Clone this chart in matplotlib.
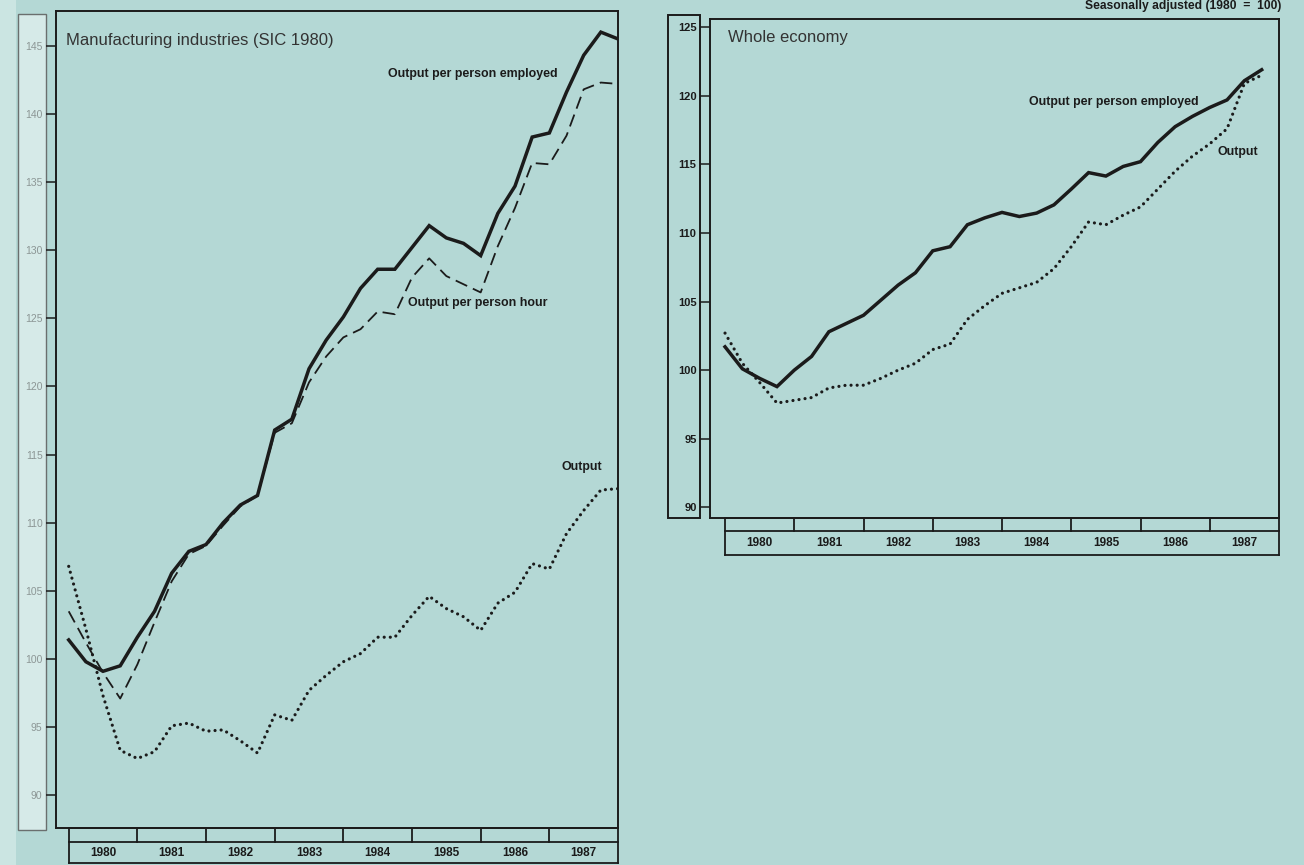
import numpy as np
import matplotlib.pyplot as plt
from matplotlib.patches import Rectangle

# ---- data (quarterly, 1980 = 100) ----
years = [1980, 1981, 1982, 1983, 1984, 1985, 1986, 1987]
start_year = 1980

mfg_per_person = [101.4, 99.8, 99.1, 99.5, 101.6, 103.5, 106.3, 107.9, 108.4, 110.0,
                  111.3, 112.0, 116.8, 117.6, 121.3, 123.4, 125.1, 127.2, 128.6, 128.6,
                  130.2, 131.8, 130.9, 130.5, 129.6, 132.7, 134.7, 138.3, 138.6, 141.6,
                  144.3, 146.0, 145.5]
mfg_per_hour = [103.5, 101.2, 99.0, 97.1, 99.6, 102.7, 105.7, 107.7, 108.3, 109.8,
                111.2, 112.0, 116.6, 117.3, 120.3, 122.2, 123.6, 124.2, 125.5, 125.3,
                128.0, 129.4, 128.1, 127.5, 126.9, 130.3, 133.1, 136.4, 136.3, 138.4,
                141.8, 142.3, 142.2]
mfg_output = [106.8, 102.2, 97.3, 93.3, 92.7, 93.2, 95.1, 95.3, 94.7, 94.8,
              94.0, 93.1, 95.9, 95.5, 97.7, 98.8, 99.8, 100.4, 101.6, 101.6,
              103.2, 104.6, 103.7, 103.1, 102.1, 104.1, 104.9, 107.0, 106.6, 109.2,
              110.9, 112.4, 112.5]

eco_per_person = [101.7, 100.1, 99.4, 98.8, 100.0, 101.0, 102.8, 103.4, 104.0, 105.1,
                  106.2, 107.1, 108.7, 109.0, 110.6, 111.1, 111.5, 111.2, 111.45, 112.05,
                  113.2, 114.4, 114.15, 114.85, 115.2, 116.6, 117.75, 118.5, 119.15, 119.7,
                  121.1, 121.9]
eco_output = [102.7, 100.5, 99.1, 97.6, 97.8, 98.0, 98.7, 98.9, 98.9, 99.4,
              100.0, 100.5, 101.5, 101.9, 103.7, 104.7, 105.6, 106.0, 106.4, 107.4,
              109.0, 110.8, 110.6, 111.3, 111.9, 113.2, 114.5, 115.6, 116.5, 117.6,
              120.9, 121.5]

mfg_ticks = [90, 95, 100, 105, 110, 115, 120, 125, 130, 135, 140, 145]
eco_ticks = [90, 95, 100, 105, 110, 115, 120, 125]

BG = '#b4d8d5'
INK = '#1b1b1b'
W, H = 1304, 865
LABEL_FS = 8.9


def quarters(vals):
    return start_year + np.arange(len(vals)) / 4


def fig_rect(x0, y0, x1, y1):
    # pixel box (top-left origin) -> figure fraction rect
    return [x0 / W, 1 - y1 / H, (x1 - x0) / W, (y1 - y0) / H]


def draw_lines(ax, x, solid=None, dashed=None, dotted=None):
    if solid is not None:
        ax.plot(x(solid), solid, color=INK, lw=2.5, solid_joinstyle='miter')
    if dashed is not None:
        ax.plot(x(dashed), dashed, color=INK, lw=1.3, dashes=(7, 3.5))
    if dotted is not None:
        ax.plot(x(dotted), dotted, color=INK, lw=2.3, linestyle=(0, (0.01, 1.9)),
                dash_capstyle='round')


def year_boxes(fig, rect, ax, row1, row2, fs):
    ay = fig.add_axes(rect, sharex=ax)
    ay.set_ylim(0, row1 + row2)
    ay.axis('off')
    top, mid = row1 + row2, row2
    x0, x1 = years[0], years[-1] + 1
    kw = dict(color=INK, lw=1.3, clip_on=False)
    for yy in (top, mid, 0):
        ay.plot([x0, x1], [yy, yy], **kw)
    ay.plot([x0, x0], [0, top], **kw)
    ay.plot([x1, x1], [0, top], **kw)
    for yr in years[1:]:
        ay.plot([yr, yr], [mid, top], **kw)
    for yr in years:
        ay.text(yr + 0.5, mid / 2, str(yr), ha='center', va='center',
                fontsize=fs, fontweight='bold', color=INK)
    return ay


plt.rcParams['font.family'] = ['Liberation Sans', 'DejaVu Sans']
fig = plt.figure(figsize=(W / 100, H / 100), dpi=100, facecolor=BG)

# pale page edge on the far left
fig.patches.append(Rectangle((0, 0), 16 / W, 1, transform=fig.transFigure,
                             facecolor='#cbe5e2', edgecolor='none', zorder=-2))

# ---------------- left panel: manufacturing ----------------
fig.patches.append(Rectangle((18 / W, 1 - 830 / H), 28 / W, 816 / H,
                             transform=fig.transFigure, facecolor='#d6eae8',
                             edgecolor='#6a6f6e', lw=1.0, zorder=-1))
ax1 = fig.add_axes(fig_rect(56, 11, 618, 828))
ax1.set_facecolor(BG)
draw_lines(ax1, quarters, mfg_per_person, mfg_per_hour, mfg_output)
ax1.set_xlim(1979.815, 1988.0)
ax1.set_ylim(87.6, 147.55)
ax1.set_yticks(mfg_ticks)
ax1.set_xticks([])
ax1.tick_params(axis='y', direction='out', length=7.2, width=1.1, pad=2.5,
                labelsize=7.5, labelcolor='#8c9695', color=INK)
for s in ax1.spines.values():
    s.set_linewidth(1.4)
    s.set_color(INK)
ax1.text(0.018, 0.9645, 'Manufacturing industries (SIC 1980)', transform=ax1.transAxes,
         ha='left', va='center', fontsize=12, color='#333333')
ax1.text(1985.88, 142.9, 'Output per person employed', ha='center', va='center',
         fontsize=LABEL_FS, fontweight='bold', color=INK)
ax1.text(1985.96, 126.15, 'Output per person hour', ha='center', va='center',
         fontsize=LABEL_FS, fontweight='bold', color=INK)
ax1.text(1987.47, 114.1, 'Output', ha='center', va='center',
         fontsize=LABEL_FS, fontweight='bold', color=INK)
year_boxes(fig, fig_rect(56, 828, 618, 863), ax1, 14, 20, 8.5)

# ---------------- right panel: whole economy ----------------
fig.patches.append(Rectangle((668 / W, 1 - 518 / H), 32 / W, 503 / H,
                             transform=fig.transFigure, facecolor=BG,
                             edgecolor=INK, lw=1.4, zorder=-1))
ax2 = fig.add_axes(fig_rect(710, 19, 1279, 518))
ax2.set_facecolor(BG)
draw_lines(ax2, quarters, eco_per_person, None, eco_output)
ax2.set_xlim(1979.783, 1988.0)
ax2.set_ylim(89.22, 125.6)
ax2.set_yticks(eco_ticks)
ax2.set_xticks([])
ax2.tick_params(axis='y', direction='out', length=7.2, width=1.1, pad=2.5,
                labelsize=8, labelcolor=INK, color=INK)
for lbl in ax2.get_yticklabels():
    lbl.set_fontweight('bold')
for s in ax2.spines.values():
    s.set_linewidth(1.4)
    s.set_color(INK)
ax2.text(0.0316, 0.962, 'Whole economy', transform=ax2.transAxes,
         ha='left', va='center', fontsize=12, color='#333333')
ax2.text(1985.62, 119.56, 'Output per person employed', ha='center', va='center',
         fontsize=LABEL_FS, fontweight='bold', color=INK)
ax2.text(1987.40, 115.9, 'Output', ha='center', va='center',
         fontsize=LABEL_FS, fontweight='bold', color=INK)
year_boxes(fig, fig_rect(710, 518, 1279, 555), ax2, 13, 24, 8.5)

fig.text(1281 / W, 1 - 5.5 / H, 'Seasonally adjusted (1980  =  100)', ha='right',
         va='center', fontsize=8.7, fontweight='bold', color=INK)

fig.savefig('out.png', dpi=100, facecolor=BG)
